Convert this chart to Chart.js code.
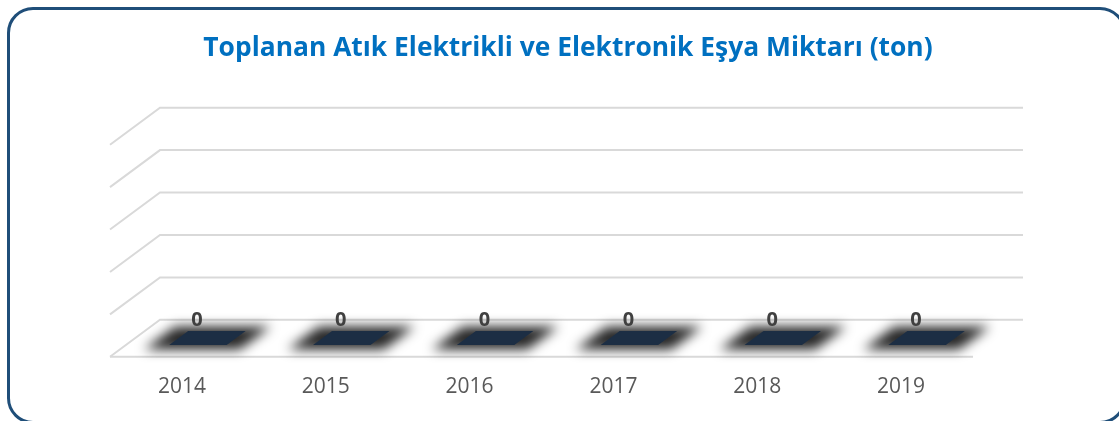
<!DOCTYPE html>
<html>
<head>
<meta charset="utf-8">
<script src="https://cdn.jsdelivr.net/npm/chart.js"></script>
<style>
  html, body { margin: 0; padding: 0; background: #fff; overflow: hidden; }
  #wrap { position: relative; width: 1119px; height: 421px; overflow: hidden; }
  #frame {
    position: absolute; left: 7px; top: 7px; width: 1119px; height: 416.5px;
    box-sizing: border-box; border: 3px solid #1F4E79; border-radius: 26px;
  }
  canvas { position: absolute; left: 0; top: 0; }
</style>
</head>
<body>
<div id="wrap">
  <div id="frame"></div>
  <canvas id="myChart" width="1119" height="421"></canvas>
</div>
<script>
const years = ["2014", "2015", "2016", "2017", "2018", "2019"];
const tons = [0, 0, 0, 0, 0, 0];
const chartTitle = "Toplanan Atık Elektrikli ve Elektronik Eşya Miktarı (ton)";

// 3D look: offset of the back wall from the front plane
const DX = 50;
const DY = -37;
// bar depth inside the floor (fraction of full depth)
const F0 = 0.32;
const F1 = 0.7;

function face(ctx, cx, py, w, f0, f1) {
  ctx.beginPath();
  ctx.moveTo(cx - w / 2 + DX * f0, py + DY * f0);
  ctx.lineTo(cx + w / 2 + DX * f0, py + DY * f0);
  ctx.lineTo(cx + w / 2 + DX * f1, py + DY * f1);
  ctx.lineTo(cx - w / 2 + DX * f1, py + DY * f1);
  ctx.closePath();
}

const depth3d = {
  id: "depth3d",
  beforeDatasetsDraw(chart) {
    const { ctx, chartArea: a } = chart;
    const y = chart.scales.y;
    ctx.save();
    ctx.strokeStyle = "#D9D9D9";
    ctx.lineWidth = 2;
    y.ticks.forEach((t) => {
      const py = y.getPixelForValue(t.value);
      ctx.beginPath();
      ctx.moveTo(a.left, py);
      ctx.lineTo(a.left + DX, py + DY);
      ctx.lineTo(a.right + DX, py + DY);
      ctx.stroke();
    });
    const py0 = y.getPixelForValue(0);
    ctx.beginPath();
    ctx.moveTo(a.left, py0);
    ctx.lineTo(a.right, py0);
    ctx.stroke();

    const meta = chart.getDatasetMeta(0);
    meta.data.forEach((bar) => {
      const { x, y: top, base, width } = bar.getProps(["x", "y", "base", "width"], true);
      // soft shadow under the bar
      ctx.save();
      ctx.filter = "blur(6px)";
      ctx.fillStyle = "rgba(0,0,0,0.85)";
      face(ctx, x, base, width + 38, F0 - 0.12, F1 + 0.12);
      ctx.fill();
      ctx.restore();

      ctx.fillStyle = "#1C2E44";
      if (base - top > 0.5) {
        ctx.fillRect(x - width / 2 + DX * F0, top + DY * F0, width, base - top);
        ctx.fillStyle = "#16253A";
        ctx.beginPath();
        ctx.moveTo(x + width / 2 + DX * F0, top + DY * F0);
        ctx.lineTo(x + width / 2 + DX * F1, top + DY * F1);
        ctx.lineTo(x + width / 2 + DX * F1, base + DY * F1);
        ctx.lineTo(x + width / 2 + DX * F0, base + DY * F0);
        ctx.closePath();
        ctx.fill();
        ctx.fillStyle = "#2A4260";
      }
      face(ctx, x, top, width, F0, F1);
      ctx.fill();
    });
    ctx.restore();
  },
  afterDatasetsDraw(chart) {
    const { ctx } = chart;
    const meta = chart.getDatasetMeta(0);
    ctx.save();
    ctx.fillStyle = "#404040";
    ctx.font = "bold 20px 'Open Sans'";
    ctx.textAlign = "center";
    ctx.textBaseline = "middle";
    meta.data.forEach((bar, i) => {
      const { x, y: top } = bar.getProps(["x", "y"], true);
      ctx.fillText(String(tons[i]), x + DX * 0.3, top + DY);
    });
    ctx.restore();
  },
};

const ctx = document.getElementById("myChart").getContext("2d");

const config = {
  type: "bar",
  data: {
    labels: years,
    datasets: [
      {
        label: "ton",
        data: tons,
        backgroundColor: "rgba(0,0,0,0)",
        barPercentage: 0.4,
        categoryPercentage: 1,
      },
    ],
  },
  options: {
    responsive: false,
    animation: false,
    layout: {
      padding: { left: 17, right: 0, top: 0, bottom: 3 },
    },
    scales: {
      x: {
        grid: { display: false, drawTicks: false },
        border: { display: false },
        ticks: {
          color: "#595959",
          font: { family: "'Open Sans'", size: 21 },
          padding: 18,
        },
      },
      y: {
        min: 0,
        max: 1,
        grid: { display: false, drawTicks: false },
        border: { display: false },
        ticks: { display: false, stepSize: 0.2 },
        afterFit: (s) => {
          s.width = 93;
        },
      },
      y2: {
        position: "right",
        grid: { display: false, drawTicks: false },
        border: { display: false },
        ticks: { display: false },
        afterFit: (s) => {
          s.width = 146;
        },
      },
    },
    plugins: {
      legend: { display: false },
      tooltip: { enabled: false },
      title: {
        display: true,
        text: chartTitle,
        color: "#0070C0",
        font: { family: "'Open Sans'", size: 26.4, weight: "bold" },
        padding: { top: 33, bottom: 80 },
      },
    },
  },
  plugins: [depth3d],
};

const myChart = new Chart(ctx, config);
</script>
</body>
</html>
